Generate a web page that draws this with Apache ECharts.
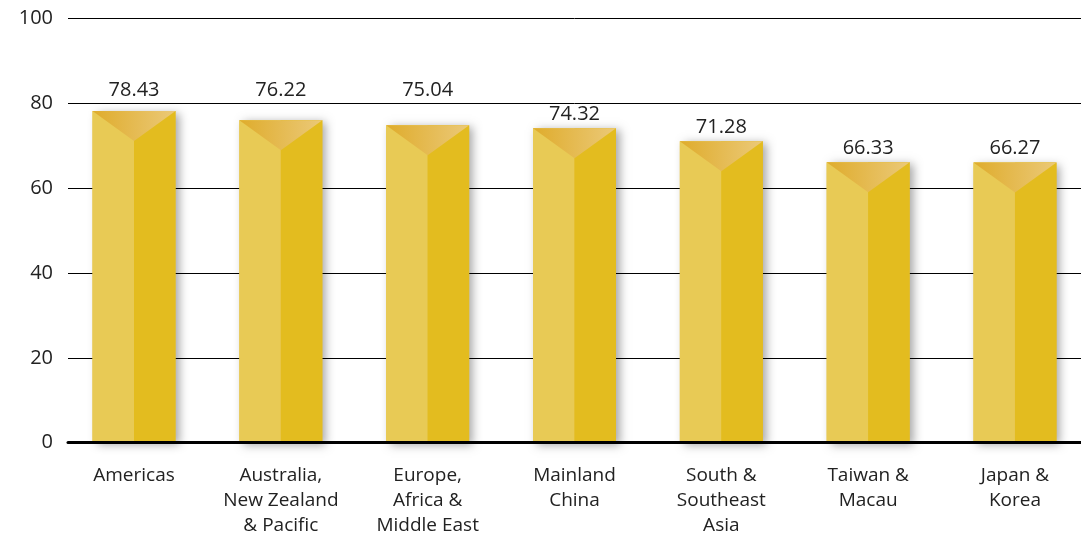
<!DOCTYPE html>
<html>
<head>
<meta charset="utf-8">
<script src="https://cdn.jsdelivr.net/npm/echarts@6/dist/echarts.min.js"></script>
<style>html,body{margin:0;padding:0;background:#fff;}#c{width:1081px;height:534px;}</style>
</head>
<body>
<div id="c"></div>
<script>
const categories = ['Americas', 'Australia,\nNew Zealand\n& Pacific', 'Europe,\nAfrica &\nMiddle East', 'Mainland\nChina', 'South &\nSoutheast\nAsia', 'Taiwan &\nMacau', 'Japan &\nKorea'];
const values = [78.43, 76.22, 75.04, 74.32, 71.28, 66.33, 66.27];
const yTicks = [0, 20, 40, 60, 80, 100];

const FONT = '"Open Sans", "Noto Sans", sans-serif';
const chart = echarts.init(document.getElementById('c'), null, {renderer: 'canvas'});

function renderItem(params, api) {
  const idx = api.value(0);
  const v = api.value(1);
  const top = api.coord([idx, v]);
  const base = api.coord([idx, 0]);
  const line80 = api.coord([idx, 80])[1];
  const w = 83, depth = 30;
  const cx = top[0];
  const x0 = cx - w / 2, x1 = cx + w / 2;
  const yT = top[1] + 1, yB = base[1];
  let ly = yT - 14;
  if (yT < line80 + 25) ly = line80 - 13;
  return {
    type: 'group',
    children: [
      {type: 'rect', shape: {x: x0, y: yT, width: w, height: yB - yT},
       style: {fill: '#e5c03a', shadowBlur: 9, shadowOffsetX: 4, shadowOffsetY: 2, shadowColor: 'rgba(0,0,0,0.35)'}},
      {type: 'rect', shape: {x: x0, y: yT, width: w / 2, height: yB - yT}, style: {fill: '#e8ca55'}},
      {type: 'rect', shape: {x: cx, y: yT, width: w / 2, height: yB - yT}, style: {fill: '#e3bc1f'}},
      {type: 'polygon', shape: {points: [[x0, yT], [x1, yT], [cx, yT + depth]]},
       style: {fill: new echarts.graphic.LinearGradient(0, 0, 1, 0, [
         {offset: 0, color: '#dfac2c'}, {offset: 1, color: '#ebc978'}])}},
      {type: 'text', style: {text: String(v.toFixed(2)), x: cx, y: ly, align: 'center', verticalAlign: 'middle',
        font: '20px ' + FONT, fill: '#222'}}
    ]
  };
}

chart.setOption({
  animation: false,
  grid: [
    {left: 68, right: 0, top: 18.4, bottom: 91.3, containLabel: false, outerBoundsMode: 'none'},
    {left: 60.6, width: 1027.8, top: 18.4, bottom: 91.3, containLabel: false, outerBoundsMode: 'none'}
  ],
  xAxis: [
    {gridIndex: 0, type: 'value', min: 0, max: 1, show: true, axisLabel: {show: false}, axisTick: {show: false},
     splitLine: {show: false}, axisLine: {show: true, lineStyle: {color: '#000', width: 3}}, z: 10},
    {gridIndex: 1, type: 'category', data: categories, axisLine: {show: false}, axisTick: {show: false},
     axisLabel: {interval: 0, margin: 20, color: '#222', fontSize: 19, lineHeight: 25, fontFamily: FONT}}
  ],
  yAxis: [
    {gridIndex: 0, type: 'value', min: 0, max: 100, interval: 20,
     axisLine: {show: false}, axisTick: {show: false},
     axisLabel: {margin: 15, color: '#222', fontSize: 20, fontFamily: FONT,
       formatter: v => yTicks.includes(v) ? String(v) : ''},
     splitLine: {lineStyle: {color: '#000', width: 1}}},
    {gridIndex: 1, type: 'value', min: 0, max: 100, show: false}
  ],
  series: [{
    type: 'custom', xAxisIndex: 1, yAxisIndex: 1, renderItem: renderItem,
    encode: {x: 0, y: 1},
    data: values.map((v, i) => [i, v]), z: 5
  }]
});
</script>
</body>
</html>
